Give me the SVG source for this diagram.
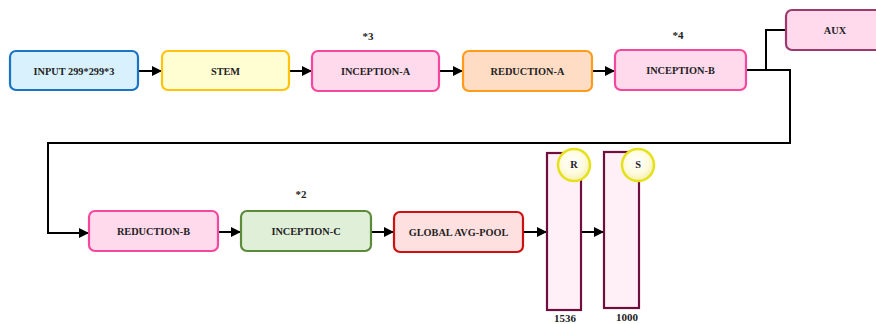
<svg xmlns="http://www.w3.org/2000/svg" width="876" height="324" viewBox="0 0 876 324">
<style>
  .box { stroke-width: 2.2; }
  .lbl { font-family: "Liberation Serif", "Times New Roman", serif; font-weight: bold; font-size: 10.3px; fill: #222; text-anchor: middle; dominant-baseline: central; }
  .rep { font-family: "Liberation Serif", "Times New Roman", serif; font-weight: bold; font-size: 11px; fill: #222; text-anchor: middle; }
  .wire { fill: none; stroke: #000; stroke-width: 2; }
  .arr { fill: none; stroke: #000; stroke-width: 2; marker-end: url(#ah); }
  .col { fill: #fff0f8; stroke: #6e0f3e; stroke-width: 2.2; }
  .circ { fill: url(#cg); stroke: #e6e21a; stroke-width: 2.5; }
</style>
<defs>
  <marker id="ah" viewBox="0 0 10 10" refX="10" refY="5" markerWidth="5" markerHeight="5" orient="auto" markerUnits="strokeWidth">
    <path d="M0,0 L10,5 L0,10 Z" fill="#000"/>
  </marker>
  <radialGradient id="cg" cx="0.45" cy="0.4" r="0.6">
    <stop offset="0" stop-color="#ffffff"/>
    <stop offset="0.6" stop-color="#fffbe0"/>
    <stop offset="1" stop-color="#f5f0b0"/>
  </radialGradient>
</defs>

<g id="connectors">
  <path class="arr" d="M138,71 L162,71"/>
  <path class="arr" d="M289,71 L312,71"/>
  <path class="arr" d="M439,71 L463,71"/>
  <path class="arr" d="M592,71 L615,71"/>
  <path class="wire" d="M746,70 L766,70 L766,30 L786,30"/>
  <path class="arr" d="M766,70 L790,70 L790,143 L48,143 L48,233 L89,233"/>
  <path class="arr" d="M218,232 L241,232"/>
  <path class="arr" d="M371,232 L394,232"/>
  <path class="arr" d="M523,232 L547,232"/>
  <path class="arr" d="M581,232 L604,232"/>
</g>

<g id="input">
  <rect class="box" x="10" y="51" width="128" height="39" rx="6" fill="#d8f1fd" stroke="#1a73c4"/>
  <text class="lbl" x="74" y="71">INPUT 299*299*3</text>
</g>
<g id="stem">
  <rect class="box" x="162" y="51" width="127" height="39" rx="6" fill="#fffdd2" stroke="#ffc20e"/>
  <text class="lbl" x="225.5" y="71">STEM</text>
</g>
<g id="inception-a">
  <rect class="box" x="312" y="51" width="127" height="40" rx="6" fill="#ffd9ec" stroke="#f5479e"/>
  <text class="lbl" x="375.5" y="71">INCEPTION-A</text>
  <text class="rep" x="368" y="40">*3</text>
</g>
<g id="reduction-a">
  <rect class="box" x="463" y="51" width="129" height="40" rx="6" fill="#ffdcc4" stroke="#ff9b1a"/>
  <text class="lbl" x="527.5" y="71">REDUCTION-A</text>
</g>
<g id="inception-b">
  <rect class="box" x="615" y="50" width="131" height="40" rx="6" fill="#ffd9ec" stroke="#f5479e"/>
  <text class="lbl" x="680.5" y="70">INCEPTION-B</text>
  <text class="rep" x="678" y="39">*4</text>
</g>
<g id="aux">
  <rect class="box" x="786" y="10" width="98" height="40" rx="6" fill="#ffd9ec" stroke="#9c3a6e"/>
  <text class="lbl" x="835" y="30">AUX</text>
</g>
<g id="reduction-b">
  <rect class="box" x="89" y="211" width="129" height="40" rx="6" fill="#ffd9ec" stroke="#f5479e"/>
  <text class="lbl" x="153.5" y="231">REDUCTION-B</text>
</g>
<g id="inception-c">
  <rect class="box" x="241" y="211" width="130" height="40" rx="6" fill="#e0efd8" stroke="#5b8b3a"/>
  <text class="lbl" x="306" y="231">INCEPTION-C</text>
  <text class="rep" x="301" y="198">*2</text>
</g>
<g id="global-avg-pool">
  <rect class="box" x="394" y="212" width="129" height="40" rx="6" fill="#ffe0e0" stroke="#cc1111"/>
  <text class="lbl" x="458.5" y="232">GLOBAL AVG-POOL</text>
</g>
<g id="fc-1536">
  <rect class="col" x="547" y="153" width="34" height="157"/>
  <circle class="circ" cx="574" cy="165" r="16"/>
  <text class="lbl" x="574" y="164">R</text>
  <text class="rep" x="565" y="322">1536</text>
</g>
<g id="fc-1000">
  <rect class="col" x="604" y="152" width="35" height="156"/>
  <circle class="circ" cx="638" cy="165" r="16"/>
  <text class="lbl" x="638" y="164">S</text>
  <text class="rep" x="627" y="321">1000</text>
</g>
</svg>
